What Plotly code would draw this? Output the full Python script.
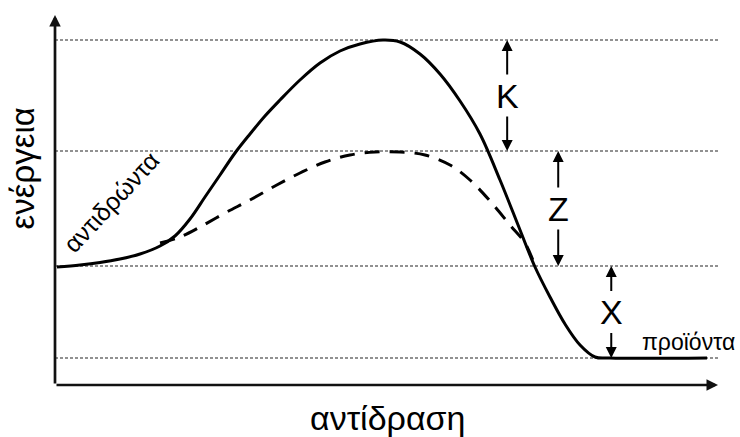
import plotly.graph_objects as go

# Energy levels (arbitrary units)
level_products = 2.7
level_reactants = 11.9
level_ts_catalysed = 23.4
level_ts_uncatalysed = 34.5
levels = [level_ts_uncatalysed, level_ts_catalysed, level_reactants, level_products]

# Uncatalysed reaction path (reaction progress %, energy)
path_x = [0.30, 3.77, 6.79, 9.80, 12.82, 15.84, 18.10, 20.36, 22.62, 24.89, 27.15, 29.41,
          31.67, 33.94, 36.95, 39.97, 42.99, 46.00, 49.47, 52.04, 55.05, 58.07, 61.09,
          64.10, 67.12, 70.14, 72.40, 74.66, 76.92, 79.19, 81.45, 83.71, 98.34]
path_y = [11.8, 12.0, 12.25, 12.6, 13.1, 13.9, 14.9, 16.6, 18.8, 21.0, 23.2, 25.1,
          26.9, 28.5, 30.5, 32.2, 33.4, 34.1, 34.5, 34.3, 33.1, 31.1, 28.4,
          25.1, 20.5, 15.5, 11.8, 8.8, 6.1, 4.0, 2.8, 2.7, 2.7]

# Catalysed reaction path
cat_x = [15.84, 18.85, 21.87, 25.64, 29.41, 33.18, 36.95, 40.72, 44.49, 48.27, 52.04,
         55.81, 59.58, 62.59, 65.61, 68.63, 70.89, 72.40]
cat_y = [14.2, 14.8, 15.8, 17.2, 18.5, 19.9, 21.2, 22.3, 23.0, 23.3, 23.3,
         23.0, 22.0, 20.5, 18.4, 16.0, 14.2, 11.9]

axis_x_title = "αντίδραση"
axis_y_title = "ενέργεια"
label_reactants = "αντιδρώντα"
label_products = "προϊόντα"
gap_labels = ["K", "Z", "X"]

FONT = "Liberation Sans, Arial, sans-serif"

fig = go.Figure()

# dotted reference levels
for lv in levels:
    fig.add_trace(go.Scatter(x=[0, 100], y=[lv, lv], mode="lines",
                             line=dict(color="#6e6e6e", width=1.6, dash="3px,2px"),
                             hoverinfo="skip", showlegend=False))

fig.add_trace(go.Scatter(x=path_x, y=path_y, mode="lines",
                         line=dict(color="black", width=3, shape="spline", smoothing=1.0),
                         showlegend=False))
fig.add_trace(go.Scatter(x=cat_x, y=cat_y, mode="lines",
                         line=dict(color="black", width=3, shape="spline", smoothing=1.0,
                                   dash="15px,10px"),
                         showlegend=False))

ann = []
# axes with arrowheads
ann.append(dict(x=0, y=37, ax=0, ay=0, xref="x", yref="y", axref="x", ayref="y",
                showarrow=True, arrowhead=2, arrowsize=0.85, arrowwidth=2.7,
                arrowcolor="#111", text=""))
ann.append(dict(x=100, y=0, ax=0, ay=0, xref="x", yref="y", axref="x", ayref="y",
                showarrow=True, arrowhead=2, arrowsize=0.85, arrowwidth=2.7,
                arrowcolor="#111", text=""))

# gap arrows
gaps = [(68.2, level_ts_uncatalysed, level_ts_catalysed),
        (75.9, level_ts_catalysed, level_reactants),
        (83.9, level_reactants, level_products)]
for (gx, top, bot), lab in zip(gaps, gap_labels):
    mid = (top + bot) / 2
    half = 1.75
    ann.append(dict(x=gx, y=top, ax=gx, ay=mid + half + 0.2, xref="x", yref="y",
                    axref="x", ayref="y", showarrow=True, arrowhead=2, arrowsize=1.1,
                    arrowwidth=2, arrowcolor="black", text=""))
    ann.append(dict(x=gx, y=bot, ax=gx, ay=mid - half - 0.2, xref="x", yref="y",
                    axref="x", ayref="y", showarrow=True, arrowhead=2, arrowsize=1.1,
                    arrowwidth=2, arrowcolor="black", text=""))
    ann.append(dict(x=gx, y=mid, xref="x", yref="y", showarrow=False, text=lab,
                    font=dict(family=FONT, size=34, color="black"),
                    xanchor="center", yanchor="middle"))

ann.append(dict(x=-0.049, y=0.584, xref="paper", yref="paper", showarrow=False,
                text=axis_y_title, textangle=-90,
                font=dict(family=FONT, size=33, color="black"),
                xanchor="center", yanchor="middle"))
ann.append(dict(x=0.502, y=-0.089, xref="paper", yref="paper", showarrow=False,
                text=axis_x_title, font=dict(family=FONT, size=34, color="black"),
                xanchor="center", yanchor="middle"))
ann.append(dict(x=8.45, y=18.3, xref="x", yref="y", showarrow=False, text=label_reactants,
                textangle=-47, font=dict(family=FONT, size=25, color="black"),
                xanchor="center", yanchor="middle"))
ann.append(dict(x=1.028, y=0.115, xref="paper", yref="paper", showarrow=False,
                text=label_products, font=dict(family=FONT, size=23, color="black"),
                xanchor="right", yanchor="middle"))

fig.update_layout(
    width=740, height=437,
    margin=dict(l=55, r=22, t=15, b=52),
    paper_bgcolor="white", plot_bgcolor="white",
    xaxis=dict(range=[0, 100], visible=False, fixedrange=True),
    yaxis=dict(range=[0, 37], visible=False, fixedrange=True),
    annotations=ann,
    showlegend=False,
)

# remove the default page margin so the figure fills the window exactly
fig.write_html("out.html", config={"displayModeBar": False},
               post_script="document.body.style.margin='0';")
